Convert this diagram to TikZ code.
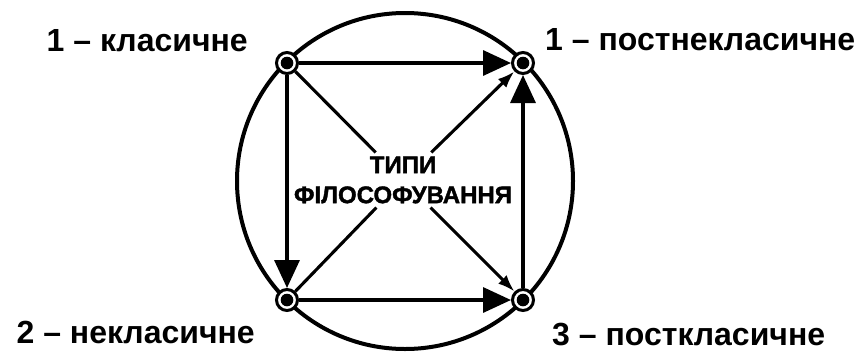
\documentclass[tikz,border=0pt]{standalone}
\usepackage{fontspec}
\setmainfont{Liberation Sans}
\newfontfamily\heavyfont{Liberation Sans Bold}[FakeBold=1.6]
\usetikzlibrary{arrows.meta}

\begin{document}
\begin{tikzpicture}[x=1pt,y=-1pt,>=Latex,
  stage/.style={circle,draw,line width=3pt,fill=white,minimum size=21pt,inner sep=0pt},
  lbl/.style={font=\bfseries\fontsize{32}{38}\selectfont,inner sep=0pt},
  big/.style={line width=3.4pt,-{Triangle[length=28pt,width=25pt]}},
  diag/.style={line width=3.1pt}]
\useasboundingbox (0,0) rectangle (862,354);
\draw[line width=4pt] (405,181) circle (168pt);
\node[stage] (cl) at (287,63) {};
\node[stage] (pn) at (523,63) {};
\node[stage] (nc) at (287,300) {};
\node[stage] (pc) at (523,300) {};
\foreach \n in {cl,pn,nc,pc}
  \fill (\n.center) circle (6.3pt);
\node[font=\heavyfont\fontsize{24}{30}\selectfont,align=center,inner sep=4pt] (types) at (403,180) {ТИПИ\\ФІЛОСОФУВАННЯ};
\node[lbl,anchor=base east,xshift=-39pt,yshift=12pt] (lcl) at (cl) {1 – класичне};
\node[lbl,anchor=base west,xshift=22pt,yshift=13pt] (lpn) at (pn) {1 – постнекласичне};
\node[lbl,anchor=base east,xshift=-32pt,yshift=-43pt] (lnc) at (nc) {2 – некласичне};
\node[lbl,anchor=base west,xshift=29pt,yshift=-45pt] (lpc) at (pc) {3 – посткласичне};
% main transitions
\draw[big] (cl) -- (pn);
\draw[big] (cl) -- (nc);
\draw[big] (nc) -- (pc);
\draw[big] (pc) -- (pn);
% diagonals through the centre
\draw[diag] (cl) -- (types);
\draw[diag,-{Latex[length=17pt,width=12pt]}] (types) -- (pc);
\draw[diag] (nc) -- (types);
\draw[diag,-{Latex[length=17pt,width=12pt]}] (types) -- (pn);
\end{tikzpicture}
\end{document}
